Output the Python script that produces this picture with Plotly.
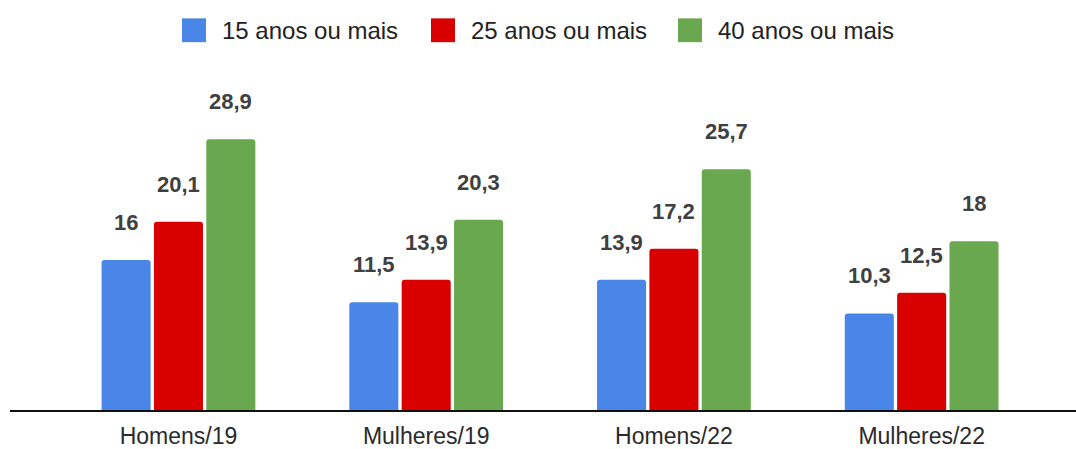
import plotly.graph_objects as go

# ---- data ----
categories = ["Homens/19", "Mulheres/19", "Homens/22", "Mulheres/22"]
series_names = ["15 anos ou mais", "25 anos ou mais", "40 anos ou mais"]
values_15 = [16, 11.5, 13.9, 10.3]
values_25 = [20.1, 13.9, 17.2, 12.5]
values_40 = [28.9, 20.3, 25.7, 18]
colors = ["#4A86E8", "#D90000", "#6AA84F"]

series_values = [values_15, values_25, values_40]

# ---- layout geometry ----
W, H = 1076, 449
ML, MR, MT, MB = 10, 0, 60, 36
BARGAP = 0.366
BARGROUPGAP = 0.063
FONT = "Liberation Sans, Arial, sans-serif"


def fmt(v):
    return f"{v:g}".replace(".", ",")


def px2paper(x, y):
    pw = W - ML - MR
    ph = H - MT - MB
    return (x - ML) / pw, (H - MB - y) / ph


fig = go.Figure()
for name, vals, col in zip(series_names, series_values, colors):
    fig.add_trace(go.Bar(
        x=categories, y=vals, name=name,
        marker=dict(color=col, cornerradius=3, line=dict(width=0)),
        showlegend=False,
        hoverinfo="x+y+name",
    ))

annotations = []
n = len(series_names)
slot = (1 - BARGAP) / n
for i, vals in enumerate(series_values):
    for ci, v in enumerate(vals):
        annotations.append(dict(
            x=ci + (i - (n - 1) / 2) * slot, y=v, xref="x", yref="y",
            text=fmt(v), showarrow=False, yanchor="bottom", yshift=23,
            font=dict(family=FONT, size=22, color="#404040", weight="bold"),
        ))

# custom legend (large square swatches)
shapes = []
legend_sq_x = [182, 431, 678]
for name, col, sx in zip(series_names, colors, legend_sq_x):
    x0, y0 = px2paper(sx, 42)
    x1, y1 = px2paper(sx + 24, 18)
    shapes.append(dict(type="rect", xref="paper", yref="paper",
                       x0=x0, x1=x1, y0=y0, y1=y1,
                       fillcolor=col, line=dict(width=0)))
    tx, ty = px2paper(sx + 38, 30)
    annotations.append(dict(
        x=tx, y=ty, xref="paper", yref="paper", text=name,
        showarrow=False, xanchor="left", yanchor="middle",
        font=dict(family=FONT, size=24, color="#222222"),
    ))

fig.update_layout(
    width=W, height=H, autosize=False,
    margin=dict(l=ML, r=MR, t=MT, b=MB),
    paper_bgcolor="white", plot_bgcolor="white",
    barmode="group", bargap=BARGAP, bargroupgap=BARGROUPGAP,
    showlegend=False,
    annotations=annotations, shapes=shapes,
    xaxis=dict(
        type="category", range=[-0.68, 3.623],
        showline=True, linecolor="#111111", linewidth=2,
        showgrid=False, zeroline=False, ticks="",
        ticklabelstandoff=4,
        tickfont=dict(family=FONT, size=23, color="#2a2a2a"),
        fixedrange=True,
    ),
    yaxis=dict(
        range=[0, 37.35], visible=False, showgrid=False, zeroline=False,
        fixedrange=True,
    ),
)

fig.write_html(
    "out.html",
    config={"displayModeBar": False},
    post_script="document.body.style.margin='0';document.body.style.overflow='hidden';",
)
